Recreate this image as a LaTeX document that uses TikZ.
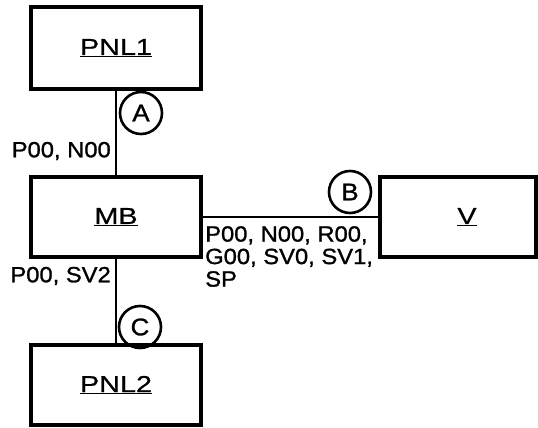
\documentclass[tikz,border=0pt]{standalone}
\usepackage{fontspec}
\setmainfont{Liberation Sans}[FakeStretch=1.08,FakeBold=1.2]
\newfontfamily\boxfont{Liberation Sans}[FakeStretch=1.25,FakeBold=0.8]
\begin{document}
\begin{tikzpicture}[x=1pt,y=-1pt,
  blk/.style={draw,line width=3.2pt,minimum width=170pt,minimum height=80pt,inner sep=0pt,font=\boxfont\fontsize{23}{26}\selectfont},
  wire/.style={line width=2.4pt},
  tag/.style={draw,circle,line width=2.6pt,minimum size=42pt,inner sep=0pt,font=\fontsize{24}{26}\selectfont},
  lbl/.style={inner sep=0pt,font=\fontsize{22}{22.5}\selectfont,align=left}]
\useasboundingbox (0,0) rectangle (538,428);
\node[blk,minimum height=82pt] (pnl1) at (116,48) {\underline{PNL1}};
\node[blk] (mb) at (116,217) {\underline{MB}};
\node[blk,minimum width=156pt] (v) at (458,217) {\hspace*{18pt}\underline{V}};
\node[blk] (pnl2) at (116,385) {\underline{PNL2}};
\draw[wire] (pnl1.south) -- (mb.north);
\draw[wire] (mb.east) -- (v.west);
\draw[wire] (mb.south) -- (pnl2.north);
\node[tag] (ta) at (141,113) {A};
\node[tag] (tb) at (350,192) {B};
\node[tag] (tc) at (140,327) {C};
\node[lbl,anchor=east] (la) at (111,151) {P00, N00};
\node[lbl,anchor=east] (lc) at (111,276) {P00, SV2};
\node[lbl,anchor=north west] (lb) at (205,226) {P00, N00, R00,\\G00, SV0, SV1,\\SP};
\end{tikzpicture}
\end{document}
